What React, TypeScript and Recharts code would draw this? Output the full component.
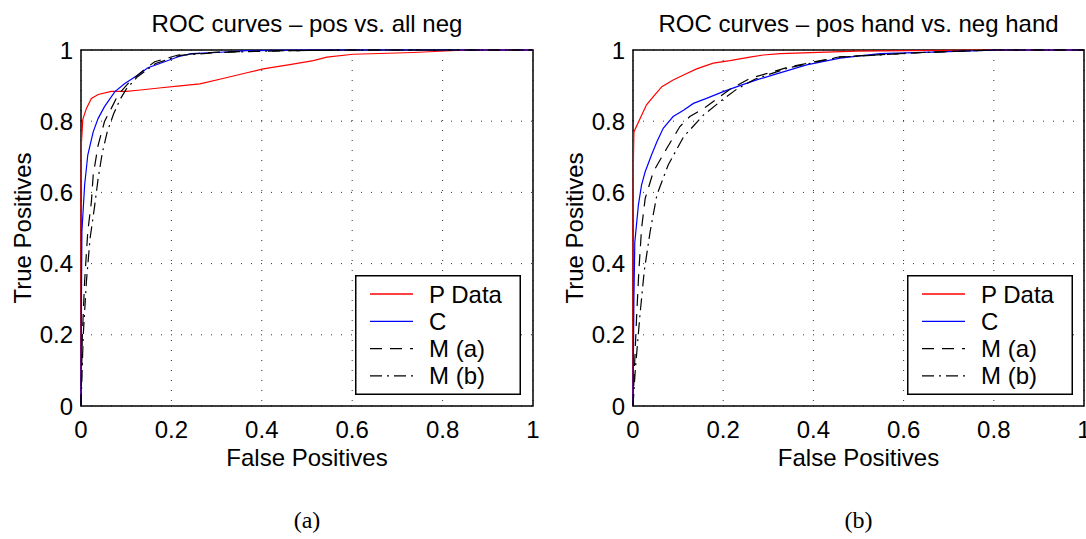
import React from "react";
import {
  LineChart,
  Line,
  XAxis,
  YAxis,
  CartesianGrid,
  ReferenceArea,
  Legend,
} from "recharts";

const FONT = "'Liberation Sans', Arial, Helvetica, sans-serif";

const ticks = [0, 0.2, 0.4, 0.6, 0.8, 1];
const titles = ["ROC curves \u2013 pos vs. all neg", "ROC curves \u2013 pos hand vs. neg hand"];
const captions = ["(a)", "(b)"];
const seriesNames = ["P Data", "C", "M (a)", "M (b)"];

// panel (a): [false positives, true positives]
const aPData = [
  [0, 0], [0, 0.6], [0.001, 0.74], [0.004, 0.805], [0.012, 0.836], [0.023, 0.864],
  [0.038, 0.875], [0.067, 0.884], [0.1, 0.884], [0.126, 0.887], [0.178, 0.894],
  [0.219, 0.899], [0.263, 0.905], [0.314, 0.92], [0.367, 0.936], [0.403, 0.947],
  [0.462, 0.959], [0.514, 0.97], [0.544, 0.98], [0.602, 0.988], [0.735, 0.993],
  [0.853, 1], [1, 1],
];
const aC = [
  [0, 0], [0.001, 0.3], [0.002, 0.49], [0.008, 0.62], [0.015, 0.705], [0.027, 0.77],
  [0.038, 0.808], [0.052, 0.841], [0.075, 0.883], [0.097, 0.906], [0.126, 0.93],
  [0.148, 0.95], [0.185, 0.967], [0.215, 0.981], [0.244, 0.99], [0.3, 0.993],
  [0.367, 0.998], [0.5, 1], [1, 1],
];
const aMa = [
  [0, 0], [0.003, 0.2], [0.008, 0.35], [0.015, 0.49], [0.023, 0.574], [0.027, 0.649],
  [0.038, 0.733], [0.052, 0.799], [0.067, 0.836], [0.082, 0.874], [0.108, 0.911],
  [0.135, 0.94], [0.163, 0.967], [0.215, 0.986], [0.3, 0.994], [0.45, 0.998],
  [0.6, 1], [1, 1],
];
const aMb = [
  [0, 0], [0.005, 0.2], [0.012, 0.35], [0.02, 0.47], [0.03, 0.56], [0.038, 0.64],
  [0.047, 0.71], [0.058, 0.77], [0.072, 0.82], [0.086, 0.86], [0.1, 0.89],
  [0.125, 0.925], [0.165, 0.962], [0.22, 0.985], [0.3, 0.993], [0.45, 0.998],
  [0.65, 1], [1, 1],
];

// panel (b)
const bPData = [
  [0, 0], [0, 0.5], [0.001, 0.7], [0.002, 0.77], [0.016, 0.808], [0.03, 0.846],
  [0.045, 0.869], [0.064, 0.897], [0.089, 0.916], [0.112, 0.93], [0.141, 0.947],
  [0.178, 0.963], [0.215, 0.97], [0.259, 0.98], [0.289, 0.986], [0.326, 0.99],
  [0.496, 0.997], [0.77, 1], [1, 1],
];
const bC = [
  [0, 0], [0.002, 0.3], [0.004, 0.46], [0.012, 0.565], [0.019, 0.621], [0.027, 0.658],
  [0.041, 0.705], [0.053, 0.742], [0.067, 0.78], [0.089, 0.813], [0.112, 0.831],
  [0.134, 0.85], [0.163, 0.864], [0.2, 0.883], [0.237, 0.9], [0.274, 0.916],
  [0.311, 0.93], [0.385, 0.958], [0.459, 0.977], [0.548, 0.99], [0.681, 0.995],
  [0.814, 1], [1, 1],
];
const bMa = [
  [0, 0], [0.003, 0.1], [0.008, 0.25], [0.013, 0.38], [0.019, 0.499], [0.027, 0.583],
  [0.045, 0.658], [0.075, 0.724], [0.104, 0.785], [0.126, 0.813], [0.163, 0.841],
  [0.215, 0.89], [0.259, 0.92], [0.348, 0.953], [0.459, 0.981], [0.643, 0.993],
  [0.8, 1], [1, 1],
];
const bMb = [
  [0, 0], [0.005, 0.1], [0.015, 0.25], [0.025, 0.38], [0.038, 0.49], [0.053, 0.593],
  [0.078, 0.677], [0.112, 0.756], [0.156, 0.817], [0.2, 0.862], [0.23, 0.89],
  [0.27, 0.918], [0.348, 0.951], [0.459, 0.98], [0.643, 0.993], [0.8, 1], [1, 1],
];

const styles = [
  { color: "#ff0000", dash: undefined },
  { color: "#0000ff", dash: undefined },
  { color: "#000000", dash: "12 8" },
  { color: "#000000", dash: "12 5 2 5" },
];

const toPts = (arr: number[][]) => arr.map(([fp, tp]) => ({ fp, tp }));

function LegendBox() {
  return (
    <svg width={166} height={120} style={{ display: "block" }}>
      <rect x={0.75} y={0.75} width={164.5} height={118.5} fill="#fff" stroke="#000" strokeWidth={1.5} />
      {seriesNames.map((name, i) => {
        const cy = 19 + i * 27.3;
        return (
          <g key={name}>
            <line x1={15} x2={58} y1={cy} y2={cy} stroke={styles[i].color} strokeWidth={1.3} strokeDasharray={styles[i].dash} />
            <text x={74} y={cy + 8.5} fontSize={24} fontFamily={FONT} fill="#000">{name}</text>
          </g>
        );
      })}
    </svg>
  );
}

function YTitle(props: any) {
  const { viewBox } = props;
  const x = viewBox.x + 22;
  const y = viewBox.y + viewBox.height / 2;
  return (
    <text x={x} y={y} transform={`rotate(-90, ${x}, ${y})`} textAnchor="middle" dominantBaseline="central" fontSize={24} fontFamily={FONT} fill="#000">
      True Positives
    </text>
  );
}

function XTitle(props: any) {
  const { viewBox } = props;
  return (
    <text x={viewBox.x + viewBox.width / 2} y={viewBox.y + 60} textAnchor="middle" fontSize={24} fontFamily={FONT} fill="#000">
      False Positives
    </text>
  );
}

function Panel({ series, width, right }: { series: number[][][]; width: number; right: number }) {
  const tick = { fill: "#000", fontSize: 24, fontFamily: FONT };
  return (
    <LineChart width={width} height={539} margin={{ top: 50, right, bottom: 73, left: 0 }}>
      <CartesianGrid stroke="#333" strokeDasharray="1 9" />
      <XAxis
        type="number"
        dataKey="fp"
        domain={[0, 1]}
        ticks={ticks}
        interval={0}
        axisLine={false}
        tickLine={false}
        tickSize={6}
        tickMargin={9}
        height={60}
        tick={tick}
        label={<XTitle />}
      />
      <YAxis
        type="number"
        dataKey="tp"
        domain={[0, 1]}
        ticks={ticks}
        interval={0}
        axisLine={false}
        tickLine={false}
        tickSize={6}
        tickMargin={2}
        width={81}
        tick={tick}
        label={<YTitle />}
      />
      {series.map((s, i) => (
        <Line
          key={seriesNames[i]}
          data={toPts(s)}
          dataKey="tp"
          name={seriesNames[i]}
          type="linear"
          stroke={styles[i].color}
          strokeWidth={1.2}
          strokeDasharray={styles[i].dash}
          dot={false}
          activeDot={false}
          isAnimationActive={false}
        />
      ))}
      <ReferenceArea x1={0} x2={1} y1={0} y2={1} fill="none" stroke="#000" strokeWidth={1.5} ifOverflow="visible" />
      <Legend
        layout="vertical"
        align="center"
        verticalAlign="middle"
        wrapperStyle={{ left: 355, top: 275, width: 166, height: 120 }}
        content={() => <LegendBox />}
      />
    </LineChart>
  );
}

export default function App() {
  const panels = [
    { left: 0, width: 552, right: 19, series: [aPData, aC, aMa, aMb], plotLeft: 81, plotW: 452 },
    { left: 552, width: 534, right: 2, series: [bPData, bC, bMa, bMb], plotLeft: 633, plotW: 451 },
  ];
  return (
    <div style={{ position: "absolute", left: 0, top: 0, width: 1086, height: 539, background: "#fff", overflow: "hidden" }}>
      {panels.map((p, i) => (
        <React.Fragment key={i}>
          <div style={{ position: "absolute", left: p.left, top: 0 }}>
            <Panel series={p.series} width={p.width} right={p.right} />
          </div>
          <div
            style={{
              position: "absolute",
              left: p.plotLeft,
              width: p.plotW,
              top: 12,
              textAlign: "center",
              fontFamily: FONT,
              fontSize: 24,
              lineHeight: "24px",
              whiteSpace: "nowrap",
            }}
          >
            {titles[i]}
          </div>
          <div
            style={{
              position: "absolute",
              left: p.plotLeft,
              width: p.plotW,
              top: 508,
              textAlign: "center",
              fontFamily: "'Liberation Serif', 'Times New Roman', serif",
              fontSize: 24,
              lineHeight: "24px",
            }}
          >
            {captions[i]}
          </div>
        </React.Fragment>
      ))}
    </div>
  );
}
